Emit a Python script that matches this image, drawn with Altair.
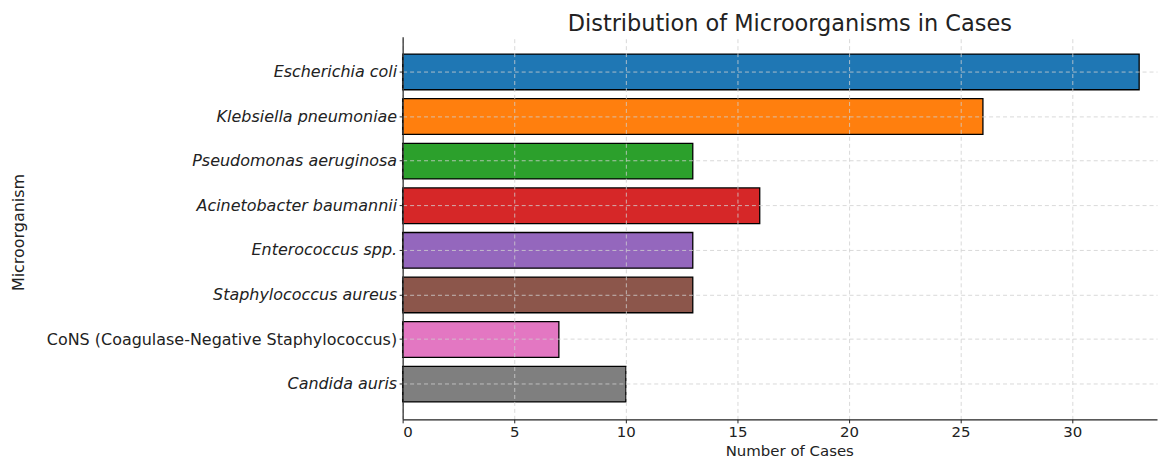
import altair as alt
import pandas as pd

organisms = [
    "Escherichia coli",
    "Klebsiella pneumoniae",
    "Pseudomonas aeruginosa",
    "Acinetobacter baumannii",
    "Enterococcus spp.",
    "Staphylococcus aureus",
    "CoNS (Coagulase-Negative Staphylococcus)",
    "Candida auris",
]
cases = [33, 26, 13, 16, 13, 13, 7, 10]
colors = ["#1f77b4", "#ff7f0e", "#2ca02c", "#d62728",
          "#9467bd", "#8c564b", "#e377c2", "#7f7f7f"]
x_ticks = [0, 5, 10, 15, 20, 25, 30]

df = pd.DataFrame({"Microorganism": organisms, "Cases": cases})

FONT = "DejaVu Sans"
TXT = "#222222"

chart = alt.Chart(df).mark_bar(stroke="black", strokeWidth=1.3).encode(
    x=alt.X("Cases:Q",
            scale=alt.Scale(domain=[0, 33.8], nice=False, zero=True),
            axis=alt.Axis(title="Number of Cases", values=x_ticks,
                          format="d", grid=True, gridDash=[4, 3], gridColor="#cfcfcf",
                          gridWidth=0.8, domainColor=TXT, domainWidth=1.2,
                          tickColor=TXT, tickSize=3.5, labelPadding=1.5,
                          labelFontSize=15, labelColor=TXT, labelFont=FONT,
                          titleFont=FONT, titleFontSize=15, titleFontWeight="normal",
                          titleColor=TXT, titleX=388, titleY=36,
                          titleBaseline="alphabetic", titleAlign="center", zindex=1)),
    y=alt.Y("Microorganism:N", sort=organisms,
            scale=alt.Scale(paddingInner=0.2, paddingOuter=0.39),
            axis=alt.Axis(title="Microorganism", bandPosition=0.5, grid=True,
                          gridDash=[4, 3], gridColor="#cfcfcf", gridWidth=0.8,
                          domainColor=TXT, domainWidth=1.2,
                          tickColor=TXT, tickSize=3.5, labelPadding=2.5,
                          labelFontSize=16, labelColor=TXT, labelFont=FONT,
                          labelLimit=500,
                          labelFontStyle={"condition": {"test": "indexof(datum.value, 'CoNS') == 0", "value": "normal"}, "value": "italic"},
                          titleFont=FONT, titleFontSize=16, titleFontWeight="normal",
                          titleColor=TXT, titleX=-385, titleY=196,
                          titleAngle=-90, titleBaseline="middle", titleAlign="center",
                          zindex=1)),
    color=alt.Color("Microorganism:N", sort=organisms,
                    scale=alt.Scale(domain=organisms, range=colors), legend=None),
).properties(
    width=757,
    height=384,
    title=alt.TitleParams("Distribution of Microorganisms in Cases", font=FONT,
                          fontSize=22.5, fontWeight="normal", color=TXT,
                          anchor="middle", dx=10, offset=1),
    autosize=alt.AutoSizeParams(type="none"),
    padding={"left": 396, "top": 28, "right": 4, "bottom": 40},
).configure_view(stroke=None)

chart.save("out.html", embed_options={"renderer": "svg", "actions": False})
